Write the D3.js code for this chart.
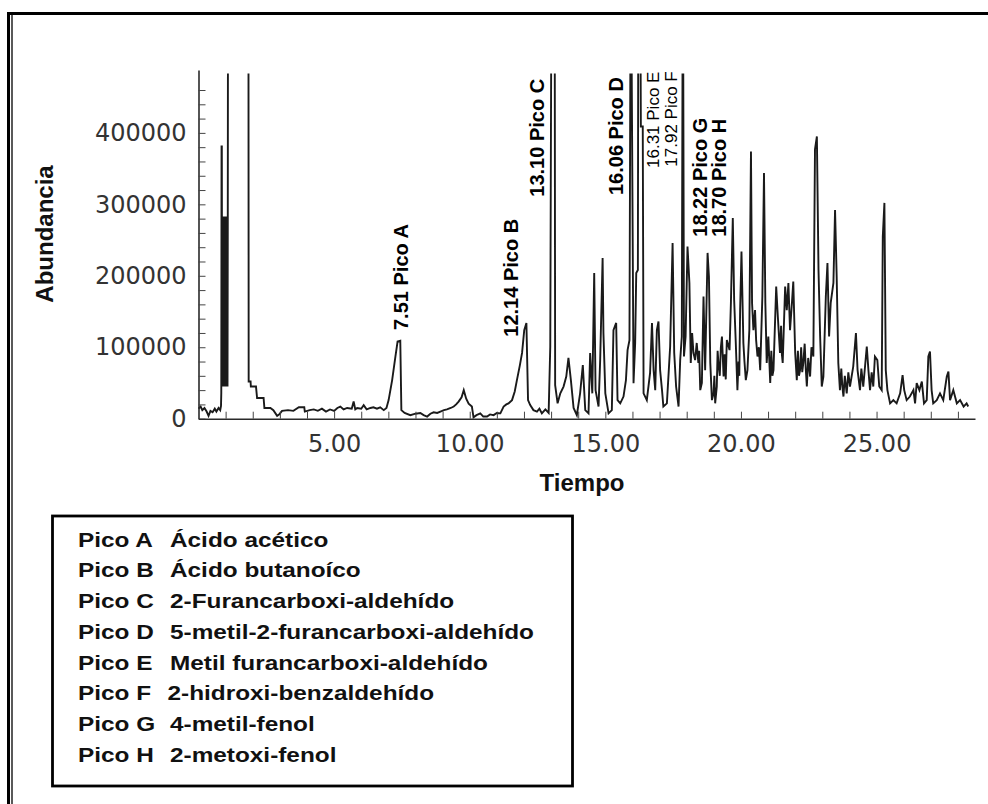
<!DOCTYPE html>
<html>
<head>
<meta charset="utf-8">
<script src="https://cdn.jsdelivr.net/npm/d3@7"></script>
<style>
  body { margin: 0; background: #fff; }
  svg { display: block; }
</style>
</head>
<body>
<svg id="chart" width="988" height="804"></svg>
<script>
// señal del cromatograma: [tiempo (min), abundancia]; 700000 = fuera de escala (pico saturado)
const senal = [
  [0.00, 14000], [0.08, 17000], [0.14, 12000], [0.22, 15000], [0.30, 10000], [0.37, 4000],
  [0.44, 11000], [0.52, 9000], [0.60, 14000], [0.66, 10000], [0.74, 15000], [0.80, 12000],
  [0.83, 18000], [0.84, 36000], [0.85, 381000], [0.86, 381000], [0.87, 45000],
  [0.88, 283000], [0.89, 45000], [0.90, 283000], [0.91, 45000], [0.92, 283000], [0.93, 45000],
  [0.94, 283000], [0.95, 45000], [0.96, 283000], [0.97, 45000], [0.98, 283000], [0.99, 45000],
  [1.00, 283000], [1.01, 45000], [1.02, 283000], [1.03, 45000], [1.04, 283000], [1.05, 45000],
  [1.06, 283000], [1.07, 45000], [1.08, 283000], [1.09, 700000], [1.84, 700000],
  [1.85, 52000], [1.92, 52000], [1.93, 45000], [2.12, 45000], [2.16, 29000], [2.40, 29000],
  [2.43, 15000], [2.65, 15000], [2.76, 12000], [2.90, 4000], [2.98, 6000], [3.08, 11000],
  [3.30, 12000], [3.50, 11000], [3.70, 16000], [3.90, 16000], [3.92, 10000], [4.10, 12000],
  [4.25, 13000], [4.40, 11000], [4.55, 14000], [4.70, 10000], [4.85, 13000], [5.00, 11000],
  [5.12, 15000], [5.23, 17000], [5.35, 13000], [5.48, 15000], [5.65, 14000], [5.72, 24000],
  [5.78, 13000], [5.85, 15000], [6.00, 14000], [6.09, 19000], [6.20, 13000], [6.34, 15000],
  [6.45, 16000], [6.58, 14000], [6.70, 16000], [6.83, 12000], [6.93, 15000], [7.01, 26000],
  [7.14, 54000], [7.26, 87000], [7.34, 108000], [7.44, 109000], [7.48, 12000], [7.60, 8000],
  [7.81, 5000], [8.00, 7000], [8.18, 8000], [8.30, 5000], [8.43, 3000], [8.55, 7000],
  [8.67, 9000], [8.80, 8000], [8.92, 10000], [9.05, 12000], [9.16, 13000], [9.30, 15000],
  [9.41, 17000], [9.50, 20000], [9.59, 24000], [9.70, 30000], [9.78, 40000], [9.87, 28000],
  [9.96, 21000], [10.08, 17000], [10.14, 2000], [10.25, 5000], [10.39, 7500], [10.50, 3000],
  [10.64, 3000], [10.75, 6000], [10.88, 5000], [11.00, 8000], [11.13, 7500], [11.25, 17000],
  [11.35, 20000], [11.43, 21500], [11.56, 26000], [11.66, 38000], [11.74, 54000], [11.85, 75000],
  [11.93, 92000], [12.01, 124000], [12.09, 134000], [12.15, 26000], [12.23, 19000], [12.35, 12000],
  [12.48, 10000], [12.57, 14000], [12.66, 7500], [12.79, 13000], [12.91, 8000], [12.97, 101000],
  [13.02, 700000], [13.13, 700000], [13.15, 47000], [13.24, 21500], [13.34, 35500], [13.46, 45000],
  [13.56, 59000], [13.64, 85000], [13.73, 54000], [13.83, 15000], [13.95, 5000], [14.07, 35500],
  [14.17, 75000], [14.26, 12000], [14.38, 7500], [14.44, 92000], [14.52, 35500], [14.59, 204000],
  [14.64, 40000], [14.75, 17000], [14.81, 82000], [14.90, 225000], [14.93, 120000], [15.00, 35500],
  [15.12, 7500], [15.24, 12000], [15.30, 124000], [15.40, 134000], [15.45, 26000], [15.55, 21500],
  [15.67, 31000], [15.76, 54000], [15.82, 96000], [15.89, 110000], [15.94, 700000], [16.04, 49500],
  [16.10, 106000], [16.14, 204000], [16.20, 208000], [16.22, 700000], [16.28, 700000], [16.31, 409000],
  [16.38, 409000], [16.41, 35500], [16.53, 26000], [16.65, 64000], [16.72, 134000], [16.78, 68000],
  [16.84, 40000], [16.90, 124000], [16.96, 136000], [17.02, 68000], [17.09, 40000], [17.14, 17000],
  [17.27, 21500], [17.39, 101000], [17.48, 246000], [17.54, 92000], [17.61, 45000], [17.70, 17000],
  [17.76, 82000], [17.82, 115000], [17.86, 700000], [17.90, 87000], [17.96, 115000], [18.03, 241000],
  [18.10, 190000], [18.15, 78000], [18.20, 120000], [18.25, 92000], [18.31, 82000], [18.37, 106000],
  [18.43, 78000], [18.46, 95000], [18.50, 40000], [18.56, 50000], [18.62, 171000], [18.68, 68000],
  [18.77, 232000], [18.82, 199000], [18.87, 78000], [18.93, 26000], [18.99, 35500], [19.02, 60000],
  [19.05, 21500], [19.11, 45000], [19.14, 95000], [19.17, 78000], [19.22, 60000], [19.26, 100000],
  [19.30, 115000], [19.36, 59000], [19.40, 90000], [19.44, 55000], [19.48, 110000], [19.58, 96000],
  [19.63, 162000], [19.70, 281000], [19.75, 166000], [19.81, 106000], [19.87, 40000], [19.91, 80000],
  [19.94, 60000], [19.97, 152000], [20.02, 234000], [20.09, 106000], [20.13, 80000], [20.18, 54000],
  [20.24, 68000], [20.31, 124000], [20.37, 374000], [20.41, 162000], [20.46, 124000], [20.52, 152000],
  [20.56, 110000], [20.61, 87000], [20.66, 100000], [20.71, 68000], [20.79, 171000], [20.85, 344000],
  [20.90, 162000], [20.95, 78000], [21.01, 115000], [21.08, 50000], [21.12, 95000], [21.16, 60000],
  [21.20, 68000], [21.30, 185000], [21.36, 143000], [21.44, 92000], [21.48, 130000], [21.51, 90000],
  [21.54, 78000], [21.63, 185000], [21.69, 152000], [21.75, 190000], [21.81, 124000], [21.88, 162000],
  [21.93, 192000], [22.00, 92000], [22.06, 54000], [22.10, 95000], [22.14, 60000], [22.18, 68000],
  [22.22, 100000], [22.26, 65000], [22.30, 78000], [22.35, 105000], [22.39, 70000], [22.43, 45000],
  [22.48, 85000], [22.55, 59000], [22.60, 100000], [22.67, 87000], [22.73, 377000], [22.80, 395000],
  [22.86, 208000], [22.92, 115000], [22.98, 45000], [23.04, 59000], [23.13, 171000], [23.19, 218000],
  [23.25, 115000], [23.31, 162000], [23.41, 190000], [23.47, 292000], [23.53, 199000], [23.59, 78000],
  [23.65, 40000], [23.70, 70000], [23.74, 45000], [23.78, 31000], [23.83, 60000], [23.90, 35500],
  [23.96, 65000], [24.02, 45000], [24.14, 73000], [24.24, 120000], [24.30, 68000], [24.39, 40000],
  [24.44, 70000], [24.51, 45000], [24.64, 101000], [24.70, 68000], [24.76, 40000], [24.82, 65000],
  [24.88, 45000], [24.94, 87000], [25.03, 82000], [25.10, 45000], [25.19, 40000], [25.23, 255000],
  [25.29, 302000], [25.34, 68000], [25.40, 40000], [25.50, 21500], [25.62, 26000], [25.74, 21500],
  [25.87, 35500], [25.96, 61000], [26.02, 40000], [26.11, 26000], [26.23, 31000], [26.36, 40000],
  [26.42, 21500], [26.48, 50000], [26.58, 40000], [26.67, 52000], [26.75, 21500], [26.85, 26000],
  [26.91, 87000], [26.97, 94000], [27.03, 40000], [27.09, 21500], [27.22, 26000], [27.34, 35500],
  [27.46, 26000], [27.59, 59000], [27.65, 66000], [27.71, 26000], [27.83, 40000], [27.96, 21500],
  [28.08, 26000], [28.21, 17000], [28.32, 21500], [28.38, 17000]
];

const yTicks = d3.range(0, 460001, 20000);
const yEtiquetas = [0, 100000, 200000, 300000, 400000];
const xTicks = d3.range(1, 29);
const xEtiquetas = [5, 10, 15, 20, 25];

const picoTextos = ['7.51 Pico A', '12.14 Pico B', '13.10 Pico C', '16.06 Pico D',
  '16.31 Pico E', '17.92 Pico F', '18.22 Pico G', '18.70 Pico H'];
const picoTiempos = [7.51, 12.14, 13.10, 16.06, 16.31, 17.92, 18.22, 18.70];

const picoNombres = ['Pico A', 'Pico B', 'Pico C', 'Pico D', 'Pico E', 'Pico F', 'Pico G', 'Pico H'];
const compuestos = ['Ácido acético', 'Ácido butanoíco', '2-Furancarboxi-aldehído',
  '5-metil-2-furancarboxi-aldehído', 'Metil furancarboxi-aldehído', '2-hidroxi-benzaldehído',
  '4-metil-fenol', '2-metoxi-fenol'];

const svg = d3.select('#chart');

// marco de la figura
svg.append('line').attr('x1', 7).attr('x2', 988).attr('y1', 13.5).attr('y2', 13.5)
  .attr('stroke', '#000').attr('stroke-width', 3);
svg.append('line').attr('x1', 8.5).attr('x2', 8.5).attr('y1', 12).attr('y2', 804)
  .attr('stroke', '#000').attr('stroke-width', 3);
svg.append('line').attr('x1', 12).attr('x2', 12).attr('y1', 15).attr('y2', 804)
  .attr('stroke', '#000').attr('stroke-width', 1.3);

const x = d3.scaleLinear().domain([0, 28.63]).range([198.5, 975]);
const y = d3.scaleLinear().domain([0, 488000]).range([418.7, 70]);

svg.append('clipPath').attr('id', 'recorte')
  .append('rect').attr('x', 198).attr('y', 73.5).attr('width', 780).attr('height', 346);

// trazado
const linea = d3.line().x(d => x(d[0])).y(d => y(d[1]));
svg.append('path')
  .datum(senal)
  .attr('clip-path', 'url(#recorte)')
  .attr('fill', 'none')
  .attr('stroke', '#1a1a1a')
  .attr('stroke-width', 1.9)
  .attr('d', linea);

// ejes
const yAxis = d3.axisLeft(y)
  .tickValues(yTicks)
  .tickSizeInner(-7)
  .tickSizeOuter(0)
  .tickPadding(12)
  .tickFormat(d => yEtiquetas.includes(d) ? d : '');

const gy = svg.append('g').attr('transform', `translate(${x(0)},0)`).call(yAxis);

const xAxis = d3.axisBottom(x)
  .tickValues(xTicks)
  .tickSizeInner(-7)
  .tickSizeOuter(0)
  .tickPadding(16)
  .tickFormat(d => xEtiquetas.includes(d) ? d.toFixed(2) : '');

const gx = svg.append('g').attr('transform', `translate(0,${y(0)})`).call(xAxis);

[gx, gy].forEach(g => {
  g.select('.domain').attr('stroke', '#2a2a2a').attr('stroke-width', 1.6);
  g.selectAll('.tick line').attr('stroke', '#444').attr('stroke-width', 1);
  g.selectAll('.tick text')
    .attr('font-family', 'DejaVu Sans, sans-serif')
    .attr('font-size', 24)
    .attr('fill', '#333');
});

// títulos de ejes
svg.append('text')
  .attr('transform', 'translate(53,234) rotate(-90)')
  .attr('text-anchor', 'middle')
  .attr('font-family', 'Liberation Sans, Arial, sans-serif')
  .attr('font-weight', 'bold')
  .attr('font-size', 24)
  .attr('fill', '#111')
  .text('Abundancia');

svg.append('text')
  .attr('x', 582).attr('y', 491)
  .attr('text-anchor', 'middle')
  .attr('font-family', 'Liberation Sans, Arial, sans-serif')
  .attr('font-weight', 'bold')
  .attr('font-size', 24)
  .attr('fill', '#111')
  .text('Tiempo');

// etiquetas de picos (girados)
const etiquetaDx = [-1, -17, -17, -18.6, 12, -13.6, 7.5, 13.5];
const etiquetaPie = [330, 336.7, 196.7, 195, 168, 166.7, 236.7, 236.7];
const etiquetaFina = [false, false, false, false, true, true, false, false];

svg.append('g').selectAll('text')
  .data(picoTextos)
  .enter()
  .append('text')
  .attr('transform', (d, i) => `translate(${x(picoTiempos[i]) + etiquetaDx[i]},${etiquetaPie[i]}) rotate(-90)`)
  .attr('dy', '0.36em')
  .attr('font-family', 'Liberation Sans, Arial, sans-serif')
  .attr('font-weight', (d, i) => etiquetaFina[i] ? 'normal' : 'bold')
  .attr('font-size', (d, i) => etiquetaFina[i] ? 17 : 20)
  .attr('fill', '#000')
  .text(d => d);

// leyenda
svg.append('rect')
  .attr('x', 52.5).attr('y', 516).attr('width', 520).attr('height', 270)
  .attr('fill', 'none').attr('stroke', '#000').attr('stroke-width', 2.8);

const ancho = 1.16; // el texto de la leyenda está algo ensanchado
const filas = svg.append('g').selectAll('g')
  .data(picoNombres)
  .enter()
  .append('g')
  .attr('transform', (d, i) => `translate(0,${546.7 + i * 30.7}) scale(${ancho},1)`);

filas.append('text')
  .attr('x', 78 / ancho)
  .attr('font-family', 'Liberation Sans, Arial, sans-serif')
  .attr('font-weight', 'bold')
  .attr('font-size', 21)
  .attr('fill', '#111')
  .text(d => d);

filas.append('text')
  .attr('x', (d, i) => (i === 5 ? 167.5 : 170) / ancho)
  .attr('font-family', 'Liberation Sans, Arial, sans-serif')
  .attr('font-weight', 'bold')
  .attr('font-size', 21)
  .attr('fill', '#111')
  .text((d, i) => compuestos[i]);
</script>
</body>
</html>
